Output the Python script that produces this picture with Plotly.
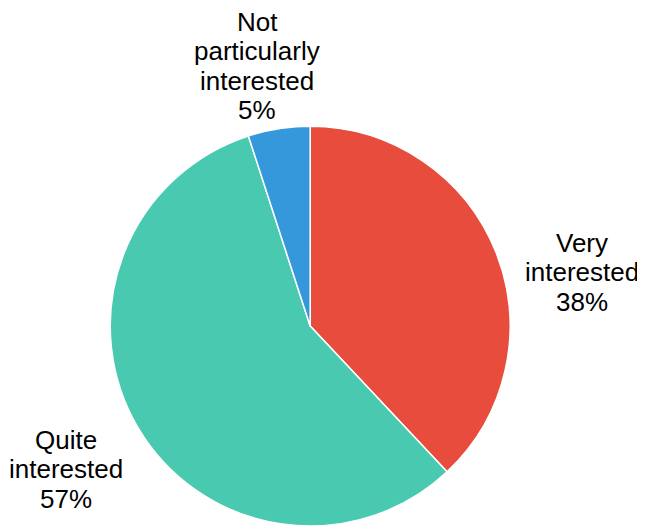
import plotly.graph_objects as go

labels = ["Very interested", "Quite interested", "Not particularly interested"]
label_lines = [["Very", "interested"], ["Quite", "interested"], ["Not", "particularly", "interested"]]
values = [38, 57, 5]
colors = ["#e74c3c", "#48c9b0", "#3498db"]

W, H = 645, 530
OFF = 8  # page body margin
# label block centres in screen pixels (layout only)
label_pos = [(582, 272), (66, 469), (257, 66)]
LINE = 29.5
FONT = dict(family="Liberation Sans, Arial, sans-serif", size=26, color="black")

fig = go.Figure(go.Pie(
    labels=labels,
    values=values,
    textinfo="none",
    marker=dict(colors=colors, line=dict(color="white", width=1.5)),
    sort=False,
    direction="clockwise",
    rotation=0,
    showlegend=False,
    automargin=False,
    domain=dict(x=[0.158, 0.779], y=[0.0226, 0.777]),
))

total = sum(values)
annotations = []
for lines, v, (px, py) in zip(label_lines, values, label_pos):
    all_lines = lines + [f"{round(100 * v / total)}%"]
    n = len(all_lines)
    for i, t in enumerate(all_lines):
        annotations.append(dict(
            x=(px - OFF) / W, y=1 - (py - OFF) / H, xref="paper", yref="paper",
            text=t, showarrow=False, font=FONT,
            xanchor="center", yanchor="middle",
            yshift=-(i - (n - 1) / 2) * LINE,
        ))

fig.update_layout(
    width=W, height=H,
    margin=dict(l=0, r=0, t=0, b=0),
    paper_bgcolor="white",
    plot_bgcolor="white",
    annotations=annotations,
)
fig.write_html("out.html")
